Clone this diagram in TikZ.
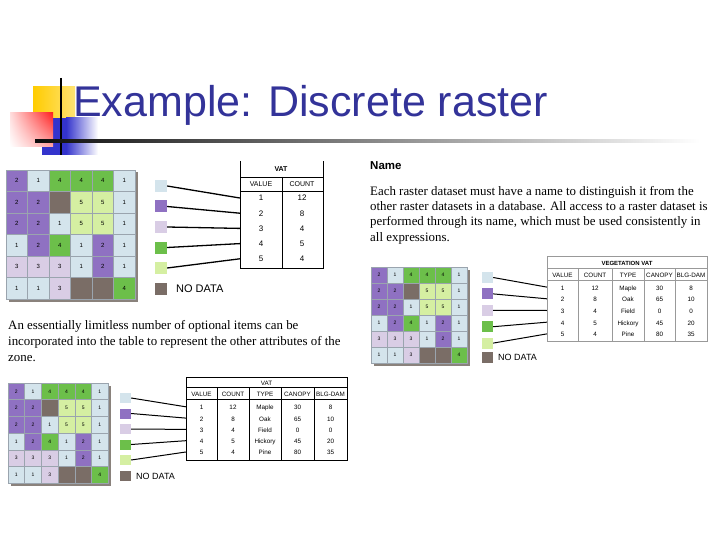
\documentclass[tikz,border=0pt]{standalone}
\usepackage{fontspec}
\setmainfont{Liberation Serif}
\setsansfont{Liberation Sans}
\usepackage{tikz}
\usetikzlibrary{positioning,shadings}
\usepackage{xcolor}

\definecolor{titleblue}{HTML}{333399}
\definecolor{val0}{HTML}{7A6D66}
\definecolor{val1}{HTML}{D4E4EC}
\definecolor{val2}{HTML}{8F71C2}
\definecolor{val3}{HTML}{D9CDE5}
\definecolor{val4}{HTML}{6CBF4A}
\definecolor{val5}{HTML}{D5EFA2}
\definecolor{cellline}{HTML}{9AA4AE}
\definecolor{gridshadow}{HTML}{8A827C}
\definecolor{decoyellow}{HTML}{FFCC00}
\definecolor{decored}{HTML}{FF2020}
\definecolor{decoblue}{HTML}{3333CC}

% 6x6 raster: #1 name, #2 left, #3 top, #4 cell size, #5 font size
\newcommand{\rastergrid}[5]{%
  \fill[gridshadow] (#2+2.5,#3+2.5) rectangle ++(6*#4,6*#4);
  \foreach \row [count=\r] in {{2,1,4,4,4,1},{2,2,0,5,5,1},{2,2,1,5,5,1},
                               {1,2,4,1,2,1},{3,3,3,1,2,1},{1,1,3,0,0,4}} {
    \foreach \v [count=\c] in \row {
      \node[cell=\v, minimum size=#4, font=\sffamily\fontsize{#5}{#5}\selectfont]
        (#1-\r-\c) at (#2+\c*#4-#4/2, #3+\r*#4-#4/2) {\ifnum\v>0 \v\fi};
    }
  }
}

\begin{document}
\begin{tikzpicture}[
    x=1pt, y=-1pt,
    cell/.style={draw=cellline, line width=0.5pt, fill=val#1, inner sep=0pt},
    swatch/.style={fill=val#1, inner sep=0pt},
    lead/.style={line width=1pt, black},
    tabline/.style={line width=0.9pt, black},
    tcellA/.style={inner sep=0pt, text height=1.6ex, text depth=0.3ex,
                   font=\sffamily\fontsize{8}{9}\selectfont},
    tcell/.style={inner sep=0pt, text height=1.6ex, text depth=0.3ex,
                  font=\sffamily\fontsize{6.3}{7}\selectfont},
    nodata/.style={inner sep=0pt, anchor=west, font=\sffamily},
    para/.style={inner sep=0pt, anchor=base west, align=left}
  ]
  \useasboundingbox (0,0) rectangle (720,540);

  % Title decoration
  \shade[left color=decoyellow, right color=decoyellow!55] (33,87) rectangle (75,120);
  \fill[decoblue] (42,118) rectangle (66,155);
  \shade[left color=decoblue, right color=white] (66,118) rectangle (98,155);
  \shade[upper right=decored, upper left=decored!15, lower right=decored!40,
         lower left=white] (10,113) rectangle (53,147);
  \draw[line width=2.5pt] (61,78) -- (61,155);
  \shade[left color=black!95, middle color=black!45, right color=white]
    (35,139.8) rectangle (700,142.6);
  \node[anchor=base west, inner sep=0pt, text=titleblue,
        font=\sffamily\fontsize{43}{50}\selectfont] (title) at (73,117) {Example: Discrete raster};

  % Raster A (top left)
  \rastergrid{gridA}{6}{170}{21.5}{6}
  \draw[tabline] (240,161) -- (240,268) -- (323,268) -- (323,161);
  \draw[tabline] (240,177) -- (323,177);
  \draw[tabline] (240,191) -- (323,191);
  \draw[tabline] (282,177) -- (282,268);
  \node[tcellA, font=\sffamily\bfseries\fontsize{7}{8}\selectfont] (vatA) at (281,169) {VAT};
  \node[tcellA, font=\sffamily\fontsize{7}{8}\selectfont] (vatA-h1) at (261,184) {VALUE};
  \node[tcellA, font=\sffamily\fontsize{7}{8}\selectfont] (vatA-h2) at (302,184) {COUNT};
  \foreach \v/\n [count=\i] in {1/12,2/8,3/4,4/5,5/4} {
    \node[tcellA, minimum width=42] (vatA-v\i) at (261,182.8+15.2*\i) {\v};
    \node[tcellA] (vatA-c\i) at (302,182.8+15.2*\i) {\n};
    \node[swatch=\i, minimum size=12] (swA\i) at (161,165.5+20.5*\i) {};
    \draw[lead, line width=1.3pt] (swA\i.east) -- (vatA-v\i.west);
  }
  \node[swatch=0, minimum size=12] (swA0) at (161,288.5) {};
  \node[nodata, font=\sffamily\fontsize{11}{12}\selectfont] (ndA) at (176,289) {NO DATA};

  % Name text (base anchor sits on the last line)
  \node[inner sep=0pt, anchor=base west, font=\sffamily\bfseries\fontsize{11.5}{13}\selectfont]
    (name) at (370,170) {Name};
  \node[para, font=\fontsize{12.9}{15.3}\selectfont] (namedesc) at (370,241)
    {Each raster dataset must have a name to distinguish it from the\\
     other raster datasets in a database. All access to a raster dataset is\\
     performed through its name, which must be used consistently in\\
     all expressions.};

  % Raster B (right)
  \rastergrid{gridB}{371}{267}{16}{5}
  \draw[line width=0.7pt, black!40] (547,256) rectangle (707,341);
  \draw[line width=0.7pt, black!40] (547,268) -- (707,268);
  \draw[line width=0.7pt, black!40] (547,280) -- (707,280);
  \foreach \xx in {578,612,644,675}
    \draw[line width=0.7pt, black!40] (\xx,268) -- (\xx,341);
  \node[tcell, font=\sffamily\bfseries\fontsize{6}{7}\selectfont] (vegB) at (627,262.5) {VEGETATION VAT};
  \foreach \h/\xx [count=\i] in {VALUE/562.5,COUNT/595,TYPE/628,CANOPY/659.5,BLG-DAM/691}
    \node[tcell] (vegB-h\i) at (\xx,274.5) {\h};
  \foreach \v/\n/\t/\p/\b [count=\i] in {1/12/Maple/30/8,2/8/Oak/65/10,3/4/Field/0/0,
                                         4/5/Hickory/45/20,5/4/Pine/80/35} {
    \node[tcell, minimum width=31] (vegB-v\i) at (562.5,275.4+11.7*\i) {\v};
    \node[tcell] (vegB-c\i) at (595,275.4+11.7*\i) {\n};
    \node[tcell] (vegB-t\i) at (628,275.4+11.7*\i) {\t};
    \node[tcell] (vegB-p\i) at (659.5,275.4+11.7*\i) {\p};
    \node[tcell] (vegB-b\i) at (691,275.4+11.7*\i) {\b};
    \node[swatch=\i, minimum size=11] (swB\i) at (487.5,261.1+16.4*\i) {};
    \draw[lead] (swB\i.east) -- (vegB-v\i.west);
  }
  \node[swatch=0, minimum size=11] (swB0) at (487.5,357) {};
  \node[nodata, font=\sffamily\fontsize{9}{10}\selectfont] (ndB) at (498,357.5) {NO DATA};

  % Attributes text
  \node[para, font=\fontsize{12.9}{16}\selectfont] (attrdesc) at (8,361)
    {An essentially limitless number of optional items can be\\
     incorporated into the table to represent the other attributes of the\\
     zone.};

  % Raster C (bottom left)
  \rastergrid{gridC}{8}{383}{16.7}{5}
  \draw[tabline] (186,377) rectangle (347,460);
  \draw[tabline] (186,387) -- (347,387);
  \draw[tabline] (186,399) -- (347,399);
  \foreach \xx in {217,249,281,314}
    \draw[tabline] (\xx,387) -- (\xx,460);
  \node[tcell] (vatC) at (266.5,382.5) {VAT};
  \foreach \h/\xx [count=\i] in {VALUE/201.5,COUNT/233,TYPE/265,CANOPY/297.5,BLG-DAM/330.5}
    \node[tcell] (vatC-h\i) at (\xx,393.5) {\h};
  \foreach \v/\n/\t/\p/\b [count=\i] in {1/12/Maple/30/8,2/8/Oak/65/10,3/4/Field/0/0,
                                         4/5/Hickory/45/20,5/4/Pine/80/35} {
    \node[tcell, minimum width=31] (vatC-v\i) at (201.5,395.5+11.3*\i) {\v};
    \node[tcell] (vatC-c\i) at (233,395.5+11.3*\i) {\n};
    \node[tcell] (vatC-t\i) at (265,395.5+11.3*\i) {\t};
    \node[tcell] (vatC-p\i) at (297.5,395.5+11.3*\i) {\p};
    \node[tcell] (vatC-b\i) at (330.5,395.5+11.3*\i) {\b};
    \node[swatch=\i, minimum width=11, minimum height=10] (swC\i) at (125.5,382.5+15.5*\i) {};
    \draw[lead] (swC\i.east) -- (vatC-v\i.west);
  }
  \node[swatch=0, minimum width=11, minimum height=10] (swC0) at (125.5,475.5) {};
  \node[nodata, font=\sffamily\fontsize{9}{10}\selectfont] (ndC) at (136,476) {NO DATA};
\end{tikzpicture}
\end{document}
